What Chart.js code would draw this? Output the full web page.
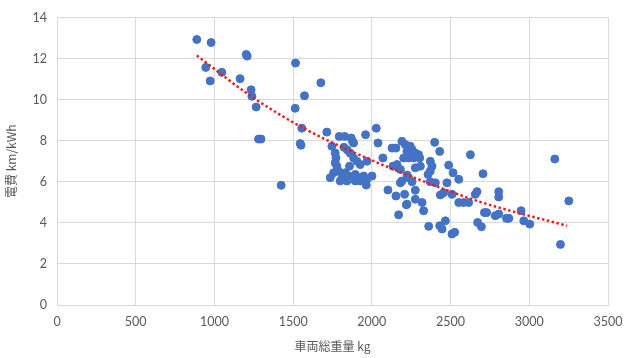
<!DOCTYPE html>
<html>
<head>
<meta charset="utf-8">
<script src="https://cdn.jsdelivr.net/npm/chart.js@4.4.1/dist/chart.umd.min.js"></script>
<style>
  html, body { margin: 0; padding: 0; background: #ffffff; }
  #wrap { width: 624px; height: 358px; position: relative; }
</style>
</head>
<body>
<div id="wrap"><canvas id="c"></canvas></div>
<script>
// 車両総重量 (kg) と 電費 (km/kWh)
const weightKg = [
  888, 979, 1202, 1208, 945, 1047, 973, 1163, 1233, 1238, 1265, 1280, 1296,
  1515, 1513, 1572, 1676, 1555, 1545, 1550, 1424, 1714,
  1793, 1827, 1869, 1877, 1884, 1960, 2028, 2039, 1746, 1823, 1844, 1767, 1772,
  1767, 1778, 1862, 1884, 1905, 1926, 1969, 1858, 1757, 1788, 1810, 1831, 1852,
  1736, 1799, 1842, 1895, 1916, 1948, 1969, 2001, 1895, 1926, 1964, 2070,
  2128, 2153, 2191, 2212, 2244, 2134, 2160, 2181, 2102, 2153, 2208, 2219, 2170,
  2191, 2233, 2223, 2255, 2276, 2297, 2202, 2234, 2266, 2304, 2276, 2308, 2223,
  2255, 2276, 2276, 2223, 2319, 2329, 2181,
  2399, 2431, 2371, 2382, 2371, 2357, 2371, 2403, 2477, 2488, 2516, 2552, 2456,
  2509, 2435, 2361, 2431, 2446, 2467, 2509, 2526, 2552, 2583, 2615, 2626,
  2657, 2668, 2706, 2715, 2729, 2672, 2696, 2784, 2806, 2806, 2806, 2855, 2870,
  2948, 2965, 3003, 3162, 3251, 3198
];
const efficiency = [
  12.93, 12.78, 12.2, 12.12, 11.57, 11.33, 10.91, 11.02, 10.48, 10.16, 9.64, 8.08, 8.08,
  11.78, 9.58, 10.19, 10.82, 8.61, 7.86, 7.78, 5.83, 8.42,
  8.21, 8.21, 8.13, 7.97, 7.89, 8.29, 8.61, 7.89, 7.73, 7.68, 7.55, 7.40, 7.16,
  6.92, 6.76, 7.40, 7.16, 7.0, 6.84, 7.0, 6.76, 6.44, 6.52, 6.36, 6.44, 6.28,
  6.2, 6.04, 6.04, 6.36, 6.2, 6.28, 6.12, 6.28, 6.04, 6.04, 5.84, 7.16,
  7.64, 7.64, 7.97, 7.81, 7.73, 6.76, 6.84, 6.6, 5.6, 5.31, 5.39, 4.88, 4.39,
  6.04, 6.2, 7.48, 7.57, 7.40, 7.32, 7.16, 7.16, 7.16, 7.16, 6.68, 6.76, 6.33,
  6.0, 5.59, 5.15, 4.91, 4.99, 4.59, 5.95,
  7.92, 7.48, 7.0, 6.76, 6.52, 6.36, 6.0, 5.95, 5.95, 6.81, 6.44, 6.12, 5.47,
  5.39, 5.36, 3.83, 3.86, 3.70, 4.10, 3.46, 3.54, 4.99, 4.99, 4.99, 7.32,
  5.39, 5.52, 6.39, 4.5, 4.5, 4.02, 3.81, 4.35, 4.43, 5.52, 5.26, 4.22, 4.22,
  4.59, 4.1, 3.94, 7.11, 5.07, 2.95
];

// 近似曲線
const trendKg = [888, 1238, 1566, 1894, 2244, 2668, 2880, 3240];
const trendEff = [12.15, 10.14, 8.61, 7.40, 6.28, 5.07, 4.59, 3.86];

const xTicks = [0, 500, 1000, 1500, 2000, 2500, 3000, 3500];
const yTicks = [0, 2, 4, 6, 8, 10, 12, 14];

const xTitle = '車両総重量 kg';
const yTitle = '電費 km/kWh';

const points = weightKg.map((w, i) => ({ x: w, y: efficiency[i] }));
const trend = trendKg.map((w, i) => ({ x: w, y: trendEff[i] }));

const tickFont = { family: "Lato, 'Noto Sans CJK JP', sans-serif", size: 12.5 };
const titleFont = { family: "'Noto Sans CJK JP', Lato, sans-serif", size: 12 };
const grey = '#595959';
const gridCol = '#d9d9d9';

new Chart(document.getElementById('c'), {
  type: 'scatter',
  data: {
    datasets: [
      {
        label: '電費',
        data: points,
        backgroundColor: '#4472c4',
        borderColor: '#4472c4',
        pointRadius: 4,
        pointHoverRadius: 4,
        order: 2
      },
      {
        label: '近似曲線',
        type: 'line',
        data: trend,
        borderColor: '#ee1c1c',
        borderWidth: 2.5,
        borderDash: [2.5, 2.5],
        pointRadius: 0,
        fill: false,
        tension: 0.4,
        cubicInterpolationMode: 'monotone',
        order: 1
      }
    ]
  },
  options: {
    responsive: true,
    maintainAspectRatio: false,
    animation: false,
    layout: { padding: { top: 15, right: 16, left: 0, bottom: 0 } },
    plugins: {
      legend: { display: false },
      tooltip: { enabled: false }
    },
    scales: {
      x: {
        type: 'linear',
        min: 0,
        max: 3500,
        afterBuildTicks: (axis) => { axis.ticks = xTicks.map(v => ({ value: v })); },
        afterFit: (axis) => { axis.height = 53; axis.paddingRight = 0; },
        grid: { color: gridCol, lineWidth: 1, drawTicks: false },
        border: { display: true, color: gridCol },
        ticks: { color: grey, font: tickFont, padding: 9, maxRotation: 0, callback: (v) => String(v) },
        title: { display: true, text: xTitle, color: grey, font: titleFont, padding: { top: 4, bottom: 4 } }
      },
      y: {
        type: 'linear',
        min: 0,
        max: 14,
        afterBuildTicks: (axis) => { axis.ticks = yTicks.map(v => ({ value: v })); },
        afterFit: (axis) => { axis.width = 57; },
        grid: { color: gridCol, lineWidth: 1, drawTicks: false },
        border: { display: false },
        ticks: { color: grey, font: tickFont, padding: 10, callback: (v) => String(v) },
        title: { display: true, text: yTitle, color: grey, font: titleFont, padding: { top: 4, bottom: 0 } }
      }
    }
  }
});
</script>
</body>
</html>
